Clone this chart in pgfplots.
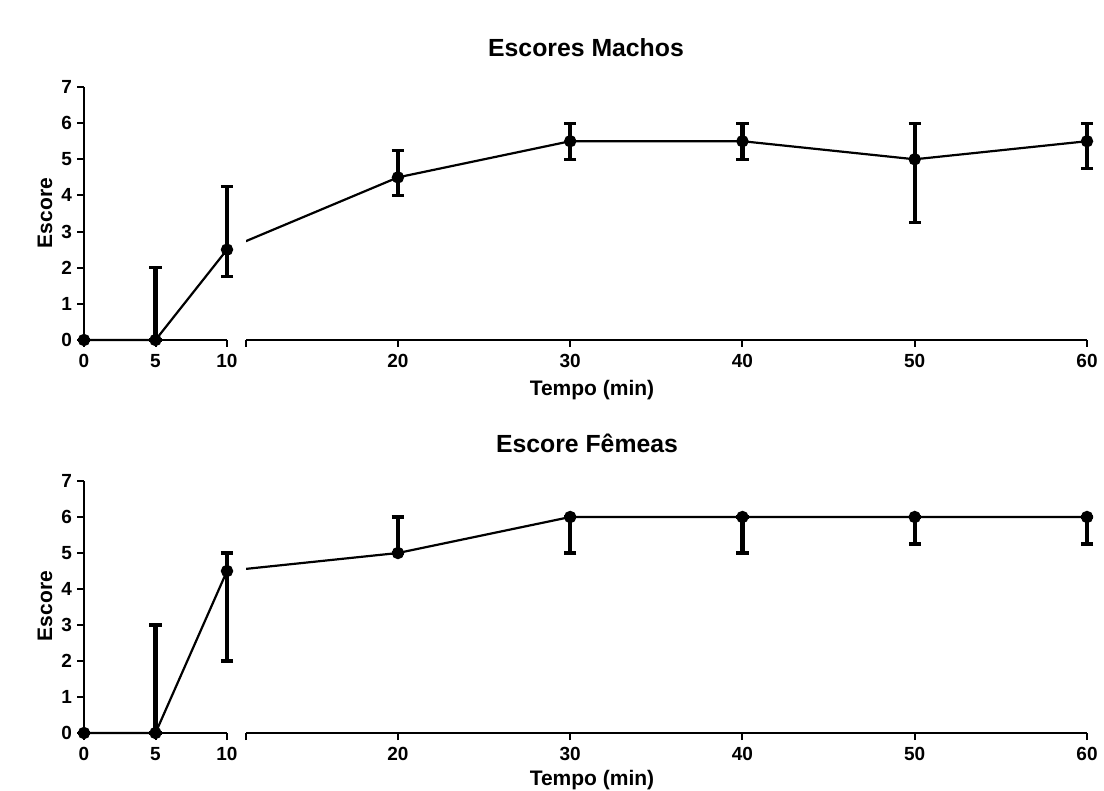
\documentclass[border=0pt]{standalone}
\usepackage{fontspec}
\setmainfont{Liberation Sans}
\usepackage{pgfplots}
\usepackage{pgfplotstable}
\pgfplotsset{compat=1.18}

% x  y  plus minus
\pgfplotstableread{
x y ep em
0 0 0 0
5 0 2 0
10 2.5 1.75 0.75
20 4.5 0.75 0.5
30 5.5 0.5 0.5
40 5.5 0.5 0.5
50 5 1 1.75
60 5.5 0.5 0.75
}\machos
\pgfplotstableread{
x y ep em
0 0 0 0
5 0 3 0
10 4.5 0.5 2.5
20 5 1 0
30 6 0 1
40 6 0 1
50 6 0 0.75
60 6 0 0.75
}\femeas

\pgfplotsset{
  gp/.style={scale only axis, enlargelimits=false, ymin=0, ymax=7,
    axis line style={line width=1pt}, tick style={line width=1pt, black},
    tick align=outside, major tick length=3.5pt,
    ticklabel style={font=\fontsize{9.5}{11}\selectfont\bfseries},
    /pgf/number format/assume math mode=true,
    anchor=south west},
  gpleft/.style={gp, width=71.5pt, axis x line*=bottom, axis y line*=left,
    xmin=0, xmax=10, xtick={0,5,10}, ytick={0,...,7}, clip=false,
    yticklabel style={xshift=1pt}},
  gpright/.style={gp, width=420.5pt, axis y line=none, axis x line*=bottom,
    xmin=11.18, xmax=60, xtick={11.18,20,30,40,50,60},
    xticklabels={,20,30,40,50,60}},
  dline/.style={black, line width=1.1pt, mark=*, mark size=2.7pt,
    mark options={fill=black, line width=0.8pt},
    error bars/y dir=both, error bars/y explicit,
    error bars/error bar style={line width=2.2pt},
    error bars/error mark options={rotate=90, line width=1.6pt, mark size=3.1pt}},
}

\begin{document}
\begin{tikzpicture}
\path[use as bounding box] (0,0) rectangle (552pt,-395.5pt);

% ---- Machos ----
\begin{axis}[gpleft, height=126.5pt, at={(42pt,-170pt)}]
\addplot[dline, restrict x to domain=0:10]
  table[x=x, y=y, y error plus=ep, y error minus=em] {\machos};
\end{axis}
\begin{axis}[gpright, height=126.5pt, at={(123pt,-170pt)}, hide axis]
\addplot[black, line width=1.1pt] table[x=x, y=y] {\machos};
\end{axis}
\begin{axis}[gpright, height=126.5pt, at={(123pt,-170pt)}, clip=false]
\addplot[dline, only marks, restrict x to domain=20:60]
  table[x=x, y=y, y error plus=ep, y error minus=em] {\machos};
\end{axis}
\node[font=\fontsize{12.4}{14}\selectfont\bfseries] at (293pt,-24pt) {Escores Machos};
\node[font=\fontsize{10.5}{12}\selectfont\bfseries] at (296pt,-195pt) {Tempo (min)};
\node[font=\fontsize{10.5}{12}\selectfont\bfseries, rotate=90] at (22.5pt,-106.5pt) {Escore};

% ---- Femeas ----
\begin{axis}[gpleft, height=126pt, at={(42pt,-366.5pt)}]
\addplot[dline, restrict x to domain=0:10]
  table[x=x, y=y, y error plus=ep, y error minus=em] {\femeas};
\end{axis}
\begin{axis}[gpright, height=126pt, at={(123pt,-366.5pt)}, hide axis]
\addplot[black, line width=1.1pt] table[x=x, y=y] {\femeas};
\end{axis}
\begin{axis}[gpright, height=126pt, at={(123pt,-366.5pt)}, clip=false]
\addplot[dline, only marks, restrict x to domain=20:60]
  table[x=x, y=y, y error plus=ep, y error minus=em] {\femeas};
\end{axis}
\node[font=\fontsize{12.4}{14}\selectfont\bfseries] at (293.5pt,-221.5pt) {Escore Fêmeas};
\node[font=\fontsize{10.5}{12}\selectfont\bfseries] at (296pt,-390pt) {Tempo (min)};
\node[font=\fontsize{10.5}{12}\selectfont\bfseries, rotate=90] at (22.5pt,-303pt) {Escore};
\end{tikzpicture}
\end{document}
